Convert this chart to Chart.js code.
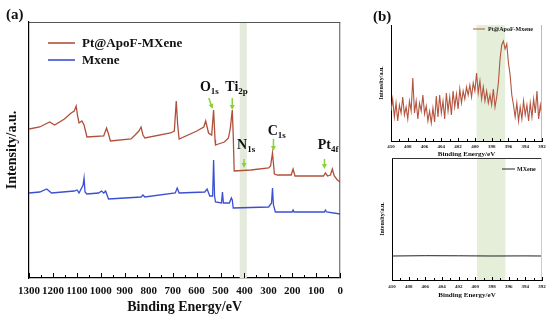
<!DOCTYPE html>
<html>
<head>
<meta charset="utf-8">
<script src="https://cdn.jsdelivr.net/npm/chart.js@4.4.1/dist/chart.umd.min.js"></script>
<style>
  body { margin: 0; background: #fff; }
  #wrap { position: relative; width: 550px; height: 322px; overflow: hidden; }
  canvas { position: absolute; }
</style>
</head>
<body>
<div id="wrap">
  <canvas id="survey" width="350" height="322" style="left:0;top:0;width:350px;height:322px"></canvas>
  <canvas id="n1sTop" width="200" height="160" style="left:350px;top:0;width:200px;height:160px"></canvas>
  <canvas id="n1sBottom" width="200" height="166" style="left:350px;top:156px;width:200px;height:166px"></canvas>
</div>
<script>
// survey spectra, binding energy (eV) and intensity (a.u.)
var surveyPtEnergy = [1300, 1255, 1214, 1193, 1152, 1124, 1111, 1103, 1097, 1091, 1079, 1070, 1058, 988, 976, 968, 960,
	874, 857, 841, 832, 824, 816, 709, 693, 685, 679, 673, 599, 570, 562, 550, 537, 529, 523, 521, 509, 484, 467, 459,
	451, 447, 443, 373, 299, 291, 283, 275, 262, 205, 197, 189, 70, 62, 53, 41, 33, 25, 12, 0];
var surveyPtCounts = [149, 151, 156, 153, 159, 165, 167, 172, 162, 155, 157, 153, 141, 142, 150, 144, 137,
	139, 143, 147, 151, 143, 140, 145, 147, 177, 153, 139, 147, 151, 157, 145, 143, 168, 138, 133, 134, 136, 140, 150,
	168, 143, 107, 108, 110, 112, 125, 104, 103, 103, 109, 102, 102, 105, 102, 103, 109, 102, 98, 96];

var surveyMxEnergy = [1300, 1255, 1226, 1206, 1111, 1099, 1091, 1074, 1070, 1066, 1058, 1009, 997, 988, 980, 968,
	832, 824, 816, 689, 681, 673, 566, 556, 545, 533, 529, 525, 521, 496, 492, 488, 463, 455, 451, 447,
	299, 287, 283, 279, 271, 201, 197, 193, 66, 62, 57, 0];
var surveyMxCounts = [85, 86, 89, 85, 87, 88, 85, 93, 100, 86, 84, 85, 87, 85, 87, 79,
	81, 83, 81, 85, 90, 85, 86, 89, 82, 82, 118, 82, 76, 75, 86, 75, 75, 80, 78, 70,
	71, 75, 90, 73, 66, 66, 68, 66, 66, 68, 66, 64];

// N 1s region
var n1sEnergy = [410.0, 409.8, 409.6, 409.4, 409.2, 409.0, 408.8, 408.6, 408.4, 408.2,
	408.0, 407.8, 407.6, 407.4, 407.2, 407.0, 406.8, 406.6, 406.4, 406.2,
	406.0, 405.8, 405.6, 405.4, 405.2, 405.0, 404.8, 404.6, 404.4, 404.2,
	404.0, 403.8, 403.6, 403.4, 403.2, 403.0, 402.8, 402.6, 402.4, 402.2,
	402.0, 401.8, 401.6, 401.4, 401.2, 401.0, 400.8, 400.6, 400.4, 400.2,
	400.0, 399.8, 399.6, 399.4, 399.2, 399.0, 398.8, 398.6, 398.4, 398.2,
	398.0, 397.8, 397.6, 397.4, 397.2, 397.0, 396.8, 396.6, 396.4, 396.2,
	396.0, 395.8, 395.6, 395.4, 395.2, 395.0, 394.8, 394.6, 394.4, 394.2,
	394.0, 393.8, 393.6, 393.4, 393.2, 393.0, 392.8, 392.6, 392.4, 392.2, 392.0];
var n1sPtCounts = [30, 42, 24, 38, 20, 36, 28, 44, 26, 34,
	22, 40, 30, 63, 28, 40, 22, 38, 30, 46,
	27, 35, 20, 30, 18, 33, 19, 45, 24, 46,
	28, 40, 22, 48, 30, 44, 26, 50, 34, 47,
	32, 52, 38, 50, 42, 54, 46, 56, 44, 58,
	50, 68, 48, 60, 42, 54, 40, 50, 38, 46,
	36, 52, 34, 44, 58, 82, 96, 100, 92, 97,
	78, 66, 46, 36, 24, 38, 20, 34, 22, 40,
	26, 36, 20, 38, 24, 42, 28, 50, 22, 36, 24];

var n1sMxEnergy = [410, 406, 402, 398, 394, 392];
var n1sMxCounts = [24, 24.3, 24.2, 24, 24.1, 24];

var seriesNames = ['Pt@ApoF-MXene', 'Mxene', 'Pt@ApoF-Mxene', 'MXene'];

// peak labels on the survey, placed in data units
var peakLabels = [
	{ main: 'O', sub: '1s', textE: 586, textI: 191, arrowE: [549, 533], arrowI: [180, 169] },
	{ main: 'Ti', sub: '2p', textE: 480, textI: 191, arrowE: [451, 451], arrowI: [180, 168] },
	{ main: 'N', sub: '1s', textE: 431, textI: 133, arrowE: [402, 402], arrowI: [119, 110] },
	{ main: 'C', sub: '1s', textE: 303, textI: 147, arrowE: [279, 279], arrowI: [139, 127] },
	{ main: 'Pt', sub: '4f', textE: 94, textI: 133, arrowE: [66, 66], arrowI: [119, 109] }
];

var serif = "'Liberation Serif', 'Times New Roman', serif";

function toPoints(xs, ys) {
	var out = [];
	for (var i = 0; i < xs.length; i++) out.push({ x: xs[i], y: ys[i] });
	return out;
}

function plainTick(v) {
	return String(v);
}

var framePlugin = {
	id: 'frame',
	beforeDatasetsDraw: function(chart, args, opts) {
		if (!opts.band) return;
		var x = chart.scales.x, a = chart.chartArea, ctx = chart.ctx;
		var p1 = x.getPixelForValue(opts.band[0]), p2 = x.getPixelForValue(opts.band[1]);
		ctx.save();
		ctx.fillStyle = opts.bandColor;
		ctx.fillRect(Math.min(p1, p2), a.top, Math.abs(p2 - p1), a.bottom - a.top);
		ctx.restore();
	},
	afterDraw: function(chart, args, opts) {
		var ctx = chart.ctx, a = chart.chartArea, x = chart.scales.x, y = chart.scales.y;
		ctx.save();
		// top and right edges of the box
		ctx.lineWidth = 1;
		if (opts.topColor) {
			ctx.strokeStyle = opts.topColor;
			ctx.beginPath(); ctx.moveTo(a.left, a.top + 0.5); ctx.lineTo(a.right, a.top + 0.5); ctx.stroke();
		}
		if (opts.rightColor) {
			ctx.strokeStyle = opts.rightColor;
			ctx.beginPath(); ctx.moveTo(a.right - 0.5, a.top); ctx.lineTo(a.right - 0.5, a.bottom); ctx.stroke();
		}
		// inward ticks, major and minor
		ctx.strokeStyle = '#000';
		for (var v = x.min; v <= x.max + 1e-9; v += opts.minorStep) {
			var px = Math.round(x.getPixelForValue(v)) + 0.5;
			var r = v / opts.majorStep;
			var len = Math.abs(r - Math.round(r)) < 1e-6 ? opts.majorLen : opts.minorLen;
			ctx.beginPath(); ctx.moveTo(px, a.bottom); ctx.lineTo(px, a.bottom - len); ctx.stroke();
		}
		// legend
		var lg = opts.legend;
		ctx.font = 'bold ' + lg.size + 'px ' + serif;
		ctx.textBaseline = 'middle';
		ctx.textAlign = 'left';
		chart.data.datasets.forEach(function(ds, i) {
			var yy = lg.y + i * lg.rowH;
			ctx.strokeStyle = ds.borderColor;
			ctx.lineWidth = lg.lineW;
			ctx.beginPath(); ctx.moveTo(lg.x, yy); ctx.lineTo(lg.x + lg.lineLen, yy); ctx.stroke();
			ctx.fillStyle = '#111';
			ctx.fillText(ds.label, lg.x + lg.lineLen + lg.gap, yy + 0.5);
		});
		// panel letter
		if (opts.panel) {
			ctx.font = 'bold 15px ' + serif;
			ctx.fillStyle = '#111';
			ctx.fillText(opts.panel.text, opts.panel.x, opts.panel.y);
		}
		// peak labels with arrows
		(opts.peaks || []).forEach(function(pk) {
			var tx = x.getPixelForValue(pk.textE), ty = y.getPixelForValue(pk.textI);
			ctx.fillStyle = '#111';
			ctx.font = 'bold 14px ' + serif;
			ctx.fillText(pk.main, tx, ty);
			var w = ctx.measureText(pk.main).width;
			ctx.font = 'bold 9px ' + serif;
			ctx.fillText(pk.sub, tx + w, ty + 5);
			var ax1 = x.getPixelForValue(pk.arrowE[0]), ay1 = y.getPixelForValue(pk.arrowI[0]);
			var ax2 = x.getPixelForValue(pk.arrowE[1]), ay2 = y.getPixelForValue(pk.arrowI[1]);
			var ang = Math.atan2(ay2 - ay1, ax2 - ax1);
			ctx.strokeStyle = '#8ccf3c';
			ctx.fillStyle = '#8ccf3c';
			ctx.lineWidth = 1.5;
			ctx.beginPath(); ctx.moveTo(ax1, ay1); ctx.lineTo(ax2 - 3 * Math.cos(ang), ay2 - 3 * Math.sin(ang)); ctx.stroke();
			ctx.beginPath();
			ctx.moveTo(ax2, ay2);
			ctx.lineTo(ax2 - 5 * Math.cos(ang) + 2.5 * Math.sin(ang), ay2 - 5 * Math.sin(ang) - 2.5 * Math.cos(ang));
			ctx.lineTo(ax2 - 5 * Math.cos(ang) - 2.5 * Math.sin(ang), ay2 - 5 * Math.sin(ang) + 2.5 * Math.cos(ang));
			ctx.closePath(); ctx.fill();
		});
		ctx.restore();
	}
};

function axisFont(size) {
	return { family: serif, weight: 'bold', size: size };
}

window.onload = function() {
	new Chart(document.getElementById('survey'), {
		type: 'line',
		data: {
			datasets: [
				{ label: seriesNames[0], data: toPoints(surveyPtEnergy, surveyPtCounts), borderColor: '#b0503a', borderWidth: 1.3 },
				{ label: seriesNames[1], data: toPoints(surveyMxEnergy, surveyMxCounts), borderColor: '#3a4fd4', borderWidth: 1.3 }
			]
		},
		options: {
			responsive: false,
			animation: false,
			layout: { padding: { left: 0, top: 22, right: 4, bottom: 0 } },
			elements: { point: { radius: 0 }, line: { tension: 0 } },
			plugins: {
				legend: { display: false },
				tooltip: { enabled: false },
				frame: {
					band: [390, 420], bandColor: '#e5ebdc',
					topColor: '#555', rightColor: '#555',
					majorStep: 100, minorStep: 50, majorLen: 5, minorLen: 3,
					legend: { x: 48, y: 43, rowH: 17, lineLen: 27, gap: 7, size: 13, lineW: 1.6 },
					panel: { text: '(a)', x: 6, y: 15 },
					peaks: peakLabels
				}
			},
			scales: {
				x: {
					type: 'linear', reverse: true, min: 0, max: 1300,
					afterFit: function(s) { s.height = 44; },
					ticks: { stepSize: 100, font: axisFont(11), color: '#111', padding: 7, maxRotation: 0, autoSkip: false, callback: plainTick },
					grid: { display: false, drawTicks: false },
					border: { color: '#000', width: 1.2 },
					title: { display: true, text: 'Binding Energy/eV', font: axisFont(14), color: '#111', padding: { top: 0, bottom: 6 } }
				},
				y: {
					min: 0, max: 256,
					afterFit: function(s) { s.width = 29; },
					ticks: { display: false },
					grid: { display: false, drawTicks: false },
					border: { color: '#000', width: 1.2 },
					title: { display: true, text: 'Intensity/a.u.', font: axisFont(14), color: '#111', padding: { top: 4, bottom: 0 } }
				}
			}
		},
		plugins: [framePlugin]
	});

	new Chart(document.getElementById('n1sTop'), {
		type: 'line',
		data: {
			datasets: [
				{ label: seriesNames[2], data: toPoints(n1sEnergy, n1sPtCounts), borderColor: '#b5543f', borderWidth: 1.1 }
			]
		},
		options: {
			responsive: false,
			animation: false,
			layout: { padding: { left: 0, top: 25, right: 8, bottom: 0 } },
			elements: { point: { radius: 0 }, line: { tension: 0 } },
			plugins: {
				legend: { display: false },
				tooltip: { enabled: false },
				frame: {
					band: [396.4, 399.8], bandColor: '#e4eed9',
					topColor: null, rightColor: '#bbb',
					majorStep: 2, minorStep: 1, majorLen: 3, minorLen: 2,
					legend: { x: 123, y: 29, rowH: 10, lineLen: 12, gap: 3, size: 6, lineW: 1 },
					panel: { text: '(b)', x: 23, y: 17 }
				}
			},
			scales: {
				x: {
					type: 'linear', reverse: true, min: 392, max: 410,
					afterFit: function(s) { s.height = 19; },
					ticks: { stepSize: 2, font: axisFont(5), color: '#111', padding: 3, maxRotation: 0, autoSkip: false, callback: plainTick },
					grid: { display: false, drawTicks: false },
					border: { color: '#000', width: 1 },
					title: { display: true, text: 'Binding Energy/eV', font: axisFont(7), color: '#111', padding: { top: 0, bottom: 1.8 } }
				},
				y: {
					min: 0, max: 116,
					afterFit: function(s) { s.width = 41; },
					ticks: { display: false },
					grid: { display: false, drawTicks: false },
					border: { color: '#000', width: 1 },
					title: { display: true, text: 'Intensity/a.u.', font: axisFont(6), color: '#111', padding: { top: 27.4, bottom: 0 } }
				}
			}
		},
		plugins: [framePlugin]
	});

	new Chart(document.getElementById('n1sBottom'), {
		type: 'line',
		data: {
			datasets: [
				{ label: seriesNames[3], data: toPoints(n1sMxEnergy, n1sMxCounts), borderColor: '#222', borderWidth: 1 }
			]
		},
		options: {
			responsive: false,
			animation: false,
			layout: { padding: { left: 0, top: 2, right: 8, bottom: 0 } },
			elements: { point: { radius: 0 }, line: { tension: 0 } },
			plugins: {
				legend: { display: false },
				tooltip: { enabled: false },
				frame: {
					band: [396.4, 399.8], bandColor: '#e4eed9',
					topColor: '#333', rightColor: '#ccc',
					majorStep: 2, minorStep: 1, majorLen: 3, minorLen: 2,
					legend: { x: 152, y: 13, rowH: 10, lineLen: 13, gap: 2, size: 6, lineW: 1 }
				}
			},
			scales: {
				x: {
					type: 'linear', reverse: true, min: 392, max: 410,
					afterFit: function(s) { s.height = 42; },
					ticks: { stepSize: 2, font: axisFont(5), color: '#111', padding: 4, maxRotation: 0, autoSkip: false, callback: plainTick },
					grid: { display: false, drawTicks: false },
					border: { color: '#000', width: 1 },
					title: { display: true, text: 'Binding Energy/eV', font: axisFont(7), color: '#111', padding: { top: 0, bottom: 22.8 } }
				},
				y: {
					min: 0, max: 122,
					afterFit: function(s) { s.width = 42; },
					ticks: { display: false },
					grid: { display: false, drawTicks: false },
					border: { color: '#000', width: 1 },
					title: { display: true, text: 'Intensity/a.u.', font: axisFont(6), color: '#111', padding: { top: 28.4, bottom: 0 } }
				}
			}
		},
		plugins: [framePlugin]
	});
};
</script>
</body>
</html>
